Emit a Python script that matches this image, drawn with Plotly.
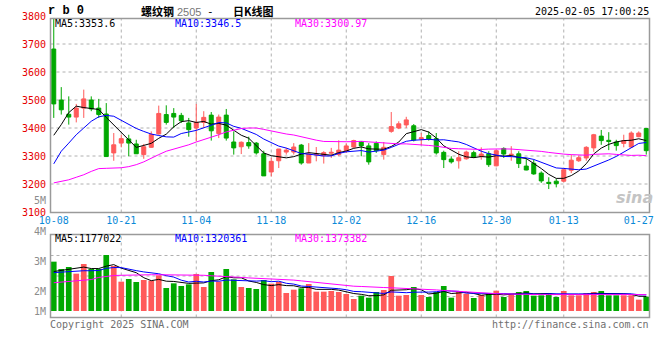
import plotly.graph_objects as go

# ---------------- data ----------------
dates = [
    "2024-10-08", "2024-10-09", "2024-10-10", "2024-10-11", "2024-10-14", "2024-10-15", "2024-10-16", "2024-10-17",
    "2024-10-18", "2024-10-21", "2024-10-22", "2024-10-23", "2024-10-24", "2024-10-25", "2024-10-28", "2024-10-29",
    "2024-10-30", "2024-10-31", "2024-11-01", "2024-11-04", "2024-11-05", "2024-11-06", "2024-11-07", "2024-11-08",
    "2024-11-11", "2024-11-12", "2024-11-13", "2024-11-14", "2024-11-15", "2024-11-18", "2024-11-19", "2024-11-20",
    "2024-11-21", "2024-11-22", "2024-11-25", "2024-11-26", "2024-11-27", "2024-11-28", "2024-11-29", "2024-12-02",
    "2024-12-03", "2024-12-04", "2024-12-05", "2024-12-06", "2024-12-09", "2024-12-10", "2024-12-11", "2024-12-12",
    "2024-12-13", "2024-12-16", "2024-12-17", "2024-12-18", "2024-12-19", "2024-12-20", "2024-12-23", "2024-12-24",
    "2024-12-25", "2024-12-26", "2024-12-27", "2024-12-30", "2024-12-31", "2025-01-02", "2025-01-03", "2025-01-06",
    "2025-01-07", "2025-01-08", "2025-01-09", "2025-01-10", "2025-01-13", "2025-01-14", "2025-01-15", "2025-01-16",
    "2025-01-17", "2025-01-20", "2025-01-21", "2025-01-22", "2025-01-23", "2025-01-24", "2025-01-27", "2025-02-05",
]
label_dates = ["2024-10-08", "2024-10-21", "2024-11-04", "2024-11-18", "2024-12-02",
               "2024-12-16", "2024-12-30", "2025-01-13", "2025-01-27"]
label_text = ["10-08", "10-21", "11-04", "11-18", "12-02", "12-16", "12-30", "01-13", "01-27"]

opens = [3682, 3500, 3449, 3439, 3471, 3500, 3471, 3450, 3311, 3346,
         3361, 3343, 3305, 3331, 3379, 3448, 3452, 3445, 3418, 3400,
         3420, 3446, 3380, 3446, 3350, 3333, 3348, 3346, 3308, 3243,
         3283, 3314, 3314, 3339, 3275, 3304, 3302, 3310, 3305, 3319,
         3332, 3352, 3336, 3345, 3305, 3388, 3400, 3411, 3408, 3361,
         3373, 3362, 3313, 3289, 3283, 3290, 3312, 3298, 3308, 3265,
         3327, 3304, 3308, 3264, 3274, 3239, 3206, 3210, 3210, 3249,
         3283, 3293, 3329, 3371, 3356, 3350, 3345, 3332, 3369, 3398]
highs = [3793, 3546, 3513, 3486, 3537, 3513, 3504, 3489, 3382, 3376,
         3376, 3358, 3343, 3388, 3480, 3481, 3471, 3454, 3436, 3486,
         3460, 3457, 3448, 3468, 3388, 3352, 3369, 3350, 3319, 3293,
         3325, 3329, 3346, 3343, 3346, 3332, 3317, 3329, 3356, 3345,
         3358, 3352, 3346, 3352, 3350, 3457, 3424, 3440, 3414, 3382,
         3388, 3382, 3319, 3299, 3317, 3319, 3319, 3331, 3317, 3323,
         3331, 3335, 3317, 3293, 3287, 3245, 3224, 3219, 3255, 3305,
         3302, 3335, 3379, 3393, 3385, 3358, 3376, 3388, 3388, 3400]
lows = [3436, 3448, 3412, 3420, 3436, 3460, 3436, 3298, 3283, 3331,
        3299, 3307, 3290, 3329, 3376, 3412, 3400, 3418, 3369, 3352,
        3400, 3355, 3364, 3355, 3305, 3307, 3326, 3305, 3229, 3227,
        3257, 3305, 3305, 3269, 3275, 3281, 3273, 3293, 3299, 3311,
        3329, 3299, 3269, 3311, 3287, 3383, 3396, 3400, 3352, 3340,
        3355, 3305, 3257, 3273, 3255, 3287, 3293, 3287, 3261, 3263,
        3293, 3283, 3257, 3249, 3233, 3204, 3182, 3188, 3206, 3239,
        3279, 3283, 3315, 3340, 3321, 3319, 3331, 3329, 3367, 3305]
closes = [3486, 3465, 3439, 3471, 3504, 3468, 3448, 3298, 3340, 3362,
          3346, 3308, 3333, 3377, 3452, 3420, 3439, 3426, 3394, 3420,
          3438, 3390, 3439, 3364, 3329, 3349, 3336, 3311, 3229, 3281,
          3325, 3321, 3332, 3275, 3307, 3307, 3312, 3313, 3321, 3336,
          3355, 3336, 3279, 3319, 3331, 3405, 3415, 3429, 3357, 3365,
          3361, 3311, 3287, 3279, 3294, 3314, 3296, 3307, 3269, 3319,
          3307, 3306, 3273, 3250, 3236, 3211, 3202, 3201, 3251, 3285,
          3294, 3331, 3376, 3355, 3352, 3337, 3355, 3382, 3382, 3319]

ma5 = [3374, 3412, 3455, 3478, 3473.0, 3469.4, 3466.0, 3437.8, 3411.6, 3383.2,
       3358.8, 3330.8, 3337.8, 3345.2, 3363.2, 3378.0, 3404.2, 3422.8, 3426.2, 3419.8,
       3423.4, 3413.6, 3416.2, 3410.2, 3392.0, 3374.2, 3363.4, 3337.8, 3310.8, 3301.2,
       3296.4, 3293.4, 3297.6, 3306.8, 3312.0, 3308.4, 3306.6, 3302.8, 3312.0, 3317.8,
       3327.4, 3332.2, 3325.4, 3325.0, 3324.0, 3334.0, 3349.8, 3379.8, 3387.4, 3394.2,
       3385.4, 3364.6, 3336.2, 3320.6, 3306.4, 3297.0, 3294.0, 3298.0, 3296.0, 3301.0,
       3299.6, 3301.6, 3294.8, 3291.0, 3274.4, 3255.2, 3234.4, 3220.0, 3220.2, 3230.0,
       3246.6, 3272.4, 3307.4, 3328.2, 3341.6, 3350.2, 3355.0, 3356.2, 3361.6, 3355.0]
ma10 = [3272, 3317, 3346, 3376, 3400, 3424, 3440, 3445, 3442, 3428.1,
        3414.1, 3398.4, 3387.8, 3378.4, 3373.2, 3368.4, 3367.5, 3380.3, 3385.7, 3391.5,
        3400.7, 3408.9, 3419.5, 3418.2, 3405.9, 3398.8, 3388.5, 3377.0, 3360.5, 3346.6,
        3335.3, 3328.4, 3317.7, 3308.8, 3306.6, 3302.4, 3300.0, 3300.2, 3309.4, 3314.9,
        3317.9, 3319.4, 3314.1, 3318.5, 3320.9, 3330.7, 3341.0, 3352.6, 3356.2, 3359.1,
        3359.7, 3357.2, 3358.0, 3354.0, 3350.3, 3341.2, 3329.3, 3317.1, 3308.3, 3303.7,
        3298.3, 3297.8, 3296.4, 3293.5, 3287.7, 3277.4, 3268.0, 3257.4, 3255.6, 3252.2,
        3250.9, 3253.4, 3263.7, 3274.2, 3285.8, 3298.4, 3313.7, 3331.8, 3344.9, 3348.3]
ma30 = [3204, 3210, 3215, 3224, 3233, 3245, 3255, 3256, 3257, 3258,
        3262, 3269, 3279, 3293, 3305, 3317, 3324, 3332, 3340, 3350,
        3358, 3367, 3376, 3386, 3393, 3398, 3400, 3400, 3395, 3388.7,
        3383.4, 3378.6, 3375.0, 3368.5, 3361.9, 3356.6, 3352.0, 3352.5, 3351.9, 3351.0,
        3351.3, 3352.2, 3350.4, 3348.5, 3344.5, 3344.0, 3343.2, 3343.3, 3342.1, 3340.2,
        3337.7, 3335.0, 3330.0, 3327.1, 3326.0, 3324.8, 3323.5, 3323.3, 3324.7, 3325.9,
        3325.3, 3324.8, 3322.9, 3322.0, 3319.7, 3316.5, 3312.8, 3309.1, 3306.7, 3305.0,
        3303.0, 3302.8, 3306.0, 3307.2, 3307.9, 3305.7, 3303.7, 3302.1, 3302.9, 3301.4]

# volume, millions
vol = [2.978, 2.733, 2.80, 2.578, 2.90, 2.733, 2.733, 3.20, 2.833, 2.311,
       2.40, 2.30, 2.367, 2.344, 2.522, 2.10, 2.256, 2.167, 2.222, 2.567,
       2.133, 2.633, 2.311, 2.733, 2.389, 2.133, 2.10, 2.067, 2.367, 2.244,
       2.30, 1.933, 2.044, 2.089, 2.233, 1.978, 1.978, 2.00, 1.967, 1.90,
       1.733, 1.844, 1.778, 1.967, 2.033, 2.50, 1.844, 1.867, 2.133, 1.867,
       1.80, 1.967, 2.167, 1.778, 1.967, 1.911, 1.767, 1.867, 1.911, 2.011,
       1.80, 1.911, 1.967, 2.00, 1.844, 1.856, 1.922, 1.80, 2.00, 1.856,
       1.856, 1.933, 1.967, 2.00, 1.856, 1.856, 1.856, 1.856, 1.711, 1.811]
vol_ma5 = [2.649, 2.684, 2.720, 2.756, 2.797, 2.748, 2.748, 2.828, 2.880, 2.763,
           2.696, 2.610, 2.443, 2.345, 2.388, 2.327, 2.318, 2.279, 2.254, 2.263,
           2.270, 2.345, 2.373, 2.476, 2.440, 2.440, 2.333, 2.285, 2.212, 2.180,
           2.213, 2.180, 2.175, 2.120, 2.120, 2.055, 2.064, 2.055, 2.030, 1.964,
           1.916, 1.889, 1.844, 1.844, 1.871, 2.024, 2.024, 2.042, 2.076, 2.042,
           1.902, 1.926, 1.987, 1.916, 1.935, 1.957, 1.918, 1.858, 1.884, 1.893,
           1.871, 1.900, 1.919, 1.937, 1.904, 1.916, 1.917, 1.884, 1.884, 1.887,
           1.887, 1.890, 1.923, 1.923, 1.923, 1.923, 1.908, 1.886, 1.828, 1.819]
vol_ma10 = [2.613, 2.631, 2.649, 2.667, 2.676, 2.676, 2.684, 2.756, 2.782, 2.780,
            2.723, 2.679, 2.636, 2.612, 2.575, 2.512, 2.464, 2.361, 2.300, 2.325,
            2.299, 2.332, 2.326, 2.365, 2.352, 2.356, 2.340, 2.330, 2.344, 2.310,
            2.327, 2.257, 2.230, 2.166, 2.150, 2.134, 2.123, 2.116, 2.076, 2.043,
            1.986, 1.977, 1.950, 1.938, 1.918, 1.970, 1.956, 1.943, 1.960, 1.956,
            1.964, 1.975, 2.014, 1.996, 1.988, 1.930, 1.923, 1.923, 1.900, 1.915,
            1.915, 1.909, 1.889, 1.911, 1.899, 1.893, 1.908, 1.902, 1.911, 1.896,
            1.901, 1.904, 1.904, 1.904, 1.905, 1.905, 1.899, 1.905, 1.876, 1.871]
vol_ma30 = [2.276, 2.302, 2.329, 2.347, 2.356, 2.382, 2.453, 2.489, 2.516, 2.524,
            2.533, 2.533, 2.542, 2.542, 2.542, 2.542, 2.542, 2.542, 2.533, 2.533,
            2.524, 2.507, 2.498, 2.480, 2.462, 2.453, 2.436, 2.427, 2.418, 2.409,
            2.400, 2.391, 2.364, 2.338, 2.311, 2.284, 2.249, 2.222, 2.196, 2.178,
            2.160, 2.151, 2.133, 2.124, 2.116, 2.107, 2.098, 2.089, 2.071, 2.062,
            2.044, 2.036, 2.018, 2.000, 1.982, 1.964, 1.947, 1.938, 1.920, 1.911,
            1.902, 1.893, 1.884, 1.884, 1.882, 1.880, 1.880, 1.880, 1.880, 1.880,
            1.880, 1.880, 1.880, 1.880, 1.880, 1.880, 1.880, 1.880, 1.880, 1.880]

price_ticks = [3100, 3200, 3300, 3400, 3500, 3600, 3700, 3800]
vol_ticks = [2, 3, 4]
vol_tick_text = ["2M", "3M", "4M"]

header_price = ["MA5:3353.6", "MA10:3346.5", "MA30:3300.97"]
header_vol = ["MA5:1177022", "MA10:1320361", "MA30:1373382"]

# ---------------- styling ----------------
W, H = 660, 360
MONO = "DejaVu Sans Mono"
CJK = "Noto Sans CJK SC"
RED = "#ff5a5a"
GREEN = "#00a800"
MA_COLORS = ["#000000", "#0000ff", "#ff00ff"]
GRID = "#b0b0b0"
BORDER = "#9a9a9a"
DATE_C = "#0a8ad8"
GRAY = "#8c8c8c"


def px(x):
    return x / W


def py(y):
    return 1 - y / H


X_DOM = [px(50), px(650)]
Y_DOM_P = [py(212), py(16)]
Y_DOM_V = [py(311), py(231)]

fig = go.Figure()
fig.add_trace(go.Candlestick(
    x=dates, open=opens, high=highs, low=lows, close=closes,
    increasing=dict(line=dict(color=RED, width=1), fillcolor=RED),
    decreasing=dict(line=dict(color=GREEN, width=1), fillcolor=GREEN),
    whiskerwidth=0, xaxis="x", yaxis="y", showlegend=False))
for vals, col in zip([ma5, ma10, ma30], MA_COLORS):
    fig.add_trace(go.Scatter(x=dates, y=vals, mode="lines", line=dict(color=col, width=1),
                             xaxis="x", yaxis="y", showlegend=False, hoverinfo="skip"))

vol_colors = [RED if c >= o else GREEN for o, c in zip(opens, closes)]
fig.add_trace(go.Bar(x=dates, y=vol, marker=dict(color=vol_colors, line=dict(width=0)),
                     xaxis="x2", yaxis="y2", showlegend=False))
for vals, col in zip([vol_ma5, vol_ma10, vol_ma30], MA_COLORS):
    fig.add_trace(go.Scatter(x=dates, y=vals, mode="lines", line=dict(color=col, width=1),
                             xaxis="x2", yaxis="y2", showlegend=False, hoverinfo="skip"))

shapes = []
dot = dict(color=GRID, width=1, dash="dot")
for v in price_ticks[1:-1]:
    shapes.append(dict(type="line", xref="paper", yref="y", x0=px(50.5), x1=px(649.5), y0=v, y1=v,
                       line=dot, layer="below"))
for d in label_dates[1:-1]:
    shapes.append(dict(type="line", xref="x", yref="paper", x0=d, x1=d, y0=py(212.5), y1=py(18.5),
                       line=dot, layer="below"))
    shapes.append(dict(type="line", xref="x2", yref="paper", x0=d, x1=d, y0=py(317.5), y1=py(234.5),
                       line=dot, layer="below"))
for yy in [255.5, 276, 296.5]:
    shapes.append(dict(type="line", xref="paper", yref="paper", x0=px(50.5), x1=px(649.5), y0=py(yy), y1=py(yy),
                       line=dot, layer="below"))
shapes.append(dict(type="rect", xref="paper", yref="paper", x0=px(50.5), x1=px(649.5), y0=py(212.5), y1=py(18.5),
                   line=dict(color=BORDER, width=1.5), layer="above"))
shapes.append(dict(type="rect", xref="paper", yref="paper", x0=px(50.5), x1=px(649.5), y0=py(317.5), y1=py(234.5),
                   line=dict(color=BORDER, width=1.5), layer="above"))

ann = []


def text(x, y, s, color="#000000", size=10, anchor="left", family=MONO, **fk):
    ann.append(dict(x=px(x), y=py(y), xref="paper", yref="paper", text=s, showarrow=False,
                    xanchor=anchor, yanchor="middle", borderpad=0,
                    font=dict(family=family, size=size, color=color, **fk)))


# title line
text(47, 11, "r b 0", size=12, family="Liberation Mono", weight="bold")
text(140, 11, "螺纹钢", size=11, family=CJK, weight="bold")
text(176, 11.5, "2505", size=11, family="Liberation Sans", color="#777777")
text(206, 11, "-", size=11, family=MONO)
text(232, 11, "日K线图", size=11, family=CJK, weight="bold")
text(650, 12, "2025-02-05 17:00:25", anchor="right")
for s, xx, col in zip(header_price, [54, 174, 294], MA_COLORS):
    text(xx, 24, s, color=col)
for s, xx, col in zip(header_vol, [54, 174, 294], MA_COLORS):
    text(xx, 238.5, s, color=col)
text(47, 200.5, "5M", color=GRAY, anchor="right")
text(47, 311, "1M", color=GRAY, anchor="right")
text(49, 324.5, "Copyright 2025 SINA.COM", color="#707070")
text(650, 324.5, "http://finance.sina.com.cn", color="#707070", anchor="right")
text(634, 197, "sina", color="#c4c4c4", size=16, anchor="center", family="DejaVu Sans",
     weight="bold", style="italic")

fig.update_layout(
    width=W, height=H, margin=dict(l=0, r=0, t=0, b=0, autoexpand=False),
    paper_bgcolor="white", plot_bgcolor="white",
    showlegend=False, boxgap=0.24, bargap=0.24,
    shapes=shapes, annotations=ann,
    xaxis=dict(domain=X_DOM, type="category", range=[-0.5, len(dates) - 0.5], anchor="y",
               tickmode="array", tickvals=label_dates, ticktext=label_text, automargin=False,
               tickfont=dict(family=MONO, size=10, color=DATE_C), ticks="", ticklabelstandoff=1,
               showgrid=False, zeroline=False, showline=False, rangeslider=dict(visible=False),
               fixedrange=True),
    yaxis=dict(domain=Y_DOM_P, range=[3100, 3800], anchor="x", tickmode="array", tickvals=price_ticks,
               tickfont=dict(family=MONO, size=10, color="#e60000"), ticks="", ticklabelstandoff=3,
               showgrid=False, zeroline=False, showline=False, fixedrange=True, automargin=False),
    xaxis2=dict(domain=X_DOM, type="category", range=[-0.5, len(dates) - 0.5], anchor="y2",
                showticklabels=False, ticks="", showgrid=False, zeroline=False, showline=False,
                fixedrange=True, automargin=False),
    yaxis2=dict(domain=Y_DOM_V, range=[4 / 3, 4], anchor="x2", tickmode="array", tickvals=vol_ticks,
                ticktext=vol_tick_text, tickfont=dict(family=MONO, size=10, color=GRAY), ticks="",
                ticklabelstandoff=3, showgrid=False, zeroline=False, showline=False, fixedrange=True,
                automargin=False),
)

fig.write_html("out.html", config={"displayModeBar": False},
               post_script="document.body.style.margin='0';document.body.style.overflow='hidden';")
